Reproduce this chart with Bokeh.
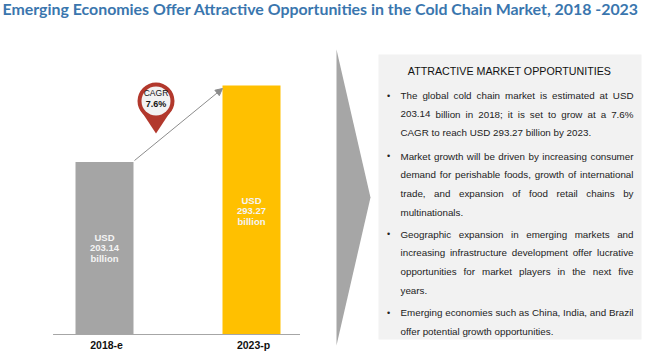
from bokeh.embed import file_html
from bokeh.resources import INLINE
from bokeh.plotting import figure
from bokeh.models import Range1d, Arrow, NormalHead
from bokeh.core.properties import value

title = "Emerging Economies Offer Attractive Opportunities in the Cold Chain Market, 2018 -2023"
categories = ["2018-e", "2023-p"]
market_size = [203.14, 293.27]
bar_colors = ["#a5a5a5", "#ffc000"]
cagr = "7.6%"
panel_title = "ATTRACTIVE MARKET OPPORTUNITIES"
paragraphs = [
    ["The global cold chain market is estimated at USD",
     "203.14 billion in 2018; it is set to grow at a 7.6%",
     "CAGR to reach USD 293.27 billion by 2023."],
    ["Market growth will be driven by increasing consumer",
     "demand for perishable foods, growth of international",
     "trade, and expansion of food retail chains by",
     "multinationals."],
    ["Geographic expansion in emerging markets and",
     "increasing infrastructure development offer lucrative",
     "opportunities for market players in the next five",
     "years."],
    ["Emerging economies such as China, India, and Brazil",
     "offer potential growth opportunities."],
]

W, H = 650, 355
LEFT, TOP = 0, 0
BASE_PX, PX_PER_UNIT = 334, 0.849
BAR0_PX, BAR_STEP = 104, 147

p = figure(width=W, height=H, output_backend="svg", toolbar_location=None,
           min_border=0, outline_line_color=None,
           x_range=Range1d((LEFT - BAR0_PX) / BAR_STEP, (LEFT + W - BAR0_PX) / BAR_STEP),
           y_range=Range1d((BASE_PX - TOP - H) / PX_PER_UNIT, (BASE_PX - TOP) / PX_PER_UNIT))
p.grid.visible = False
p.xaxis.visible = False
p.yaxis.visible = False
p.extra_x_ranges = {"px": Range1d(LEFT, LEFT + W)}
p.extra_y_ranges = {"px": Range1d(TOP + H, TOP)}
PX = dict(x_range_name="px", y_range_name="px")

# right-hand panel and big chevron
p.patch([336, 370, 336], [49, 197, 345], fill_color="#a6a6a6", line_color=None, **PX)
p.quad(left=[378], right=[641], top=[54], bottom=[339], fill_color="#f2f2f2", line_color=None, **PX)

# bars
xs = list(range(len(categories)))
p.vbar(x=xs, top=market_size, width=58 / BAR_STEP, bottom=0, fill_color=bar_colors, line_color=None)
p.segment(x0=[-0.35], x1=[1.33], y0=[0], y1=[0], line_color="#a6a6a6", line_width=1.2)

SANS = value("Liberation Sans")
label_y = [237.3, 200]
for i, (cat, v) in enumerate(zip(categories, market_size)):
    p.text(x=[i + 0.014], y=[344.5], text=[cat], text_font=SANS, text_font_size="10.5px",
           text_font_style="bold", text_color="#111111", text_align="center", text_baseline="middle",
           x_range_name="default", y_range_name="px")
    for k, s in enumerate(["USD", f"{v:.2f}", "billion"]):
        p.text(x=[i], y=[label_y[i] + k * 10.5], text=[s],
               text_font=SANS, text_font_size="9.5px", text_font_style="bold",
               text_color="#f4f4f4", text_align="center", text_baseline="middle",
               x_range_name="default", y_range_name="px")

# growth arrow
p.add_layout(Arrow(end=NormalHead(size=7, fill_color="#8c8c8c", line_color="#8c8c8c"),
                   x_start=134, y_start=160, x_end=222, y_end=88, line_color="#8c8c8c", line_width=1,
                   x_range_name="px", y_range_name="px"))

# CAGR pin
p.patch([139, 172, 155.5], [108, 108, 133], fill_color="#b2382c", line_color=None, **PX)
p.scatter([155.5], [100.5], size=37, fill_color="#b2382c", line_color=None, **PX)
p.scatter([155.5], [100.5], size=29, fill_color="#f2f2f2", line_color=None, **PX)
p.text(x=[155.5], y=[92], text=["CAGR"], text_font=SANS, text_font_size="8.5px",
       text_color="#111111", text_align="center", text_baseline="middle", **PX)
p.text(x=[155.5], y=[103.5], text=[cagr], text_font=SANS, text_font_size="9px",
       text_font_style="bold", text_color="#111111", text_align="center", text_baseline="middle", **PX)

# title
p.text(x=[2], y=[7.5], text=[title], text_font=value("Lato"), text_font_size="15.9px", text_font_style="bold",
       text_color="#3a76ae", text_align="left", text_baseline="middle", **PX)
p.text(x=[509], y=[70], text=[panel_title], text_font=SANS, text_font_size="10.7px",
       text_color="#111111", text_align="center", text_baseline="middle", **PX)

# justified body text: word widths from Helvetica/Liberation Sans metrics
AFM = dict(zip("abcdefghijklmnopqrstuvwxyz",
               [556,556,500,556,556,278,556,556,222,222,500,222,833,556,556,556,556,333,500,278,556,500,722,500,500,500]))
AFM.update(zip("ABCDEFGHIJKLMNOPQRSTUVWXYZ",
               [667,667,722,722,667,611,778,722,278,500,667,556,833,722,778,667,778,722,667,611,722,667,944,667,667,611]))
AFM.update({c: 556 for c in "0123456789"})
AFM.update({".": 278, ",": 278, ";": 278, "%": 889, "-": 333})
BODY = 9.8
def width(s):
    return sum(AFM[c] for c in s) * BODY / 1000

baselines = [[95, 113.7, 132], [155.7, 174, 193, 212], [233.7, 252, 271, 290], [312, 331]]
X0, X1 = 400, 633
for para, ys in zip(paragraphs, baselines):
    p.text(x=[388], y=[ys[0]], text=["•"], text_font=SANS, text_font_size="9px", text_color="#222222",
           text_align="center", text_baseline="middle", **PX)
    for j, (line, y) in enumerate(zip(para, ys)):
        last = j == len(para) - 1
        if last:
            p.text(x=[X0], y=[y], text=[line], text_font=SANS, text_font_size=f"{BODY}px", text_color="#222222",
                   text_align="left", text_baseline="middle", **PX)
            continue
        words = line.split(" ")
        gap = (X1 - X0 - sum(width(w) for w in words)) / (len(words) - 1)
        x = X0
        for w in words:
            p.text(x=[x], y=[y], text=[w], text_font=SANS, text_font_size=f"{BODY}px", text_color="#222222",
                   text_align="left", text_baseline="middle", **PX)
            x += width(w) + gap

open("out.html", "w").write(file_html(p, INLINE))
